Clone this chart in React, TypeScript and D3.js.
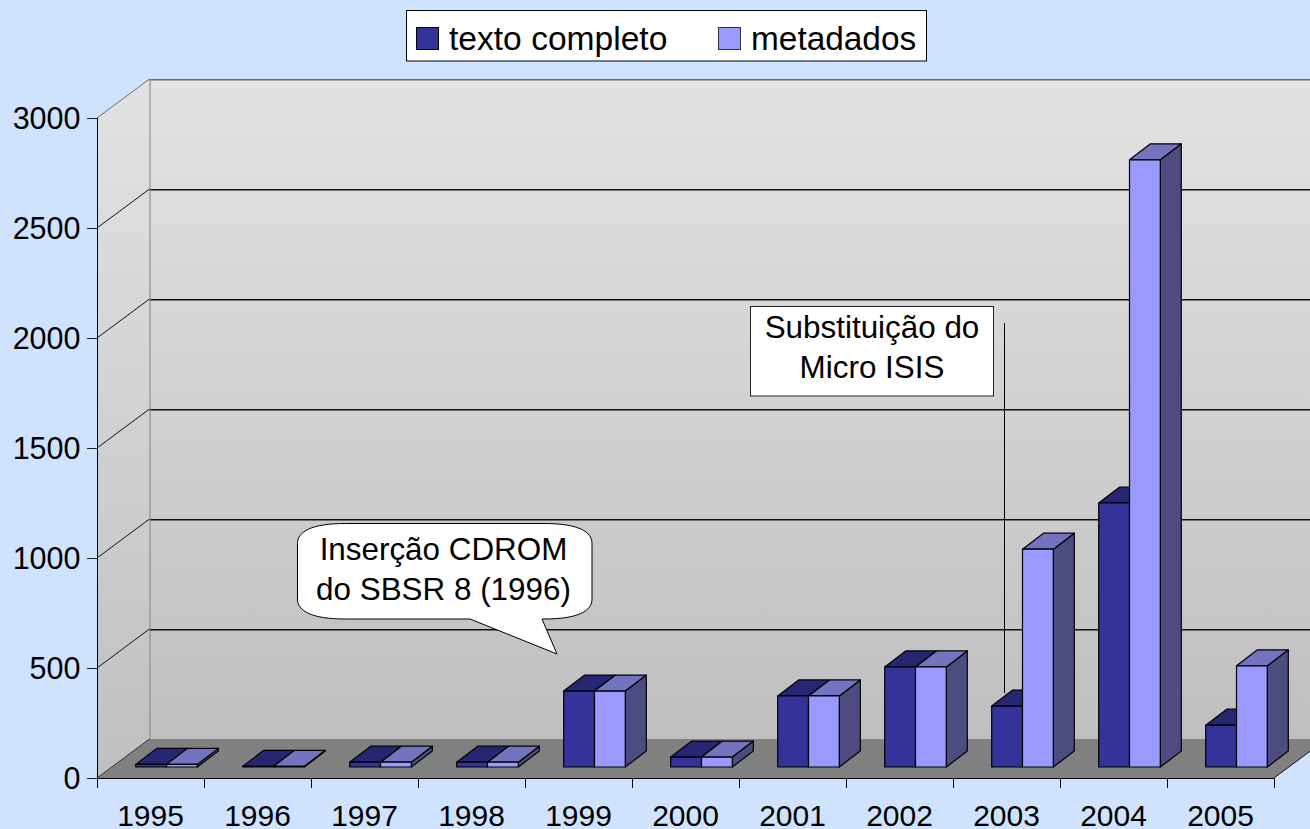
import React from "react";
import * as d3 from "d3";

const years = ["1995","1996","1997","1998","1999","2000","2001","2002","2003","2004","2005"];
const textoCompleto = [12, 3, 22, 22, 345, 45, 323, 455, 277, 1200, 190];
const metadados = [12, 3, 22, 22, 345, 45, 323, 455, 990, 2760, 460];
const yTicks = [0, 500, 1000, 1500, 2000, 2500, 3000];
const seriesNames = ["texto completo", "metadados"];

const FONT = "'Liberation Sans', Arial, sans-serif";
const BG = "#CFE3FF";
const palette = {
  tc: { front: "#333399", top: "#262673", side: "#262673" },
  md: { front: "#9999FF", top: "#7373BF", side: "#4C4C80" },
};

const W = 1310, H = 829;
const x0 = 97, x1 = 1274, y0 = 778, y3000 = 118;
const depthX = 52.5, depthY = -39;
const barDX = 21, barDY = -16, barLift = 11, barShift = 15.5;

const y = d3.scaleLinear().domain([0, 3000]).range([y0, y3000]);
const x = d3.scaleBand<string>().domain(years).range([x0, x1]);
const pts = (a: number[][]) => a.map((p) => p.join(",")).join(" ");

function Bar({ left, width, value, c, side }: any) {
  const base = y0 - barLift;
  const top = base - (y0 - y(value));
  return (
    <g stroke="#000" strokeWidth={1.2} strokeLinejoin="round">
      {side && (
        <polygon
          fill={c.side}
          points={pts([[left + width, top],[left + width + barDX, top + barDY],[left + width + barDX, base + barDY],[left + width, base]])}
        />
      )}
      <polygon
        fill={c.top}
        points={pts([[left, top],[left + width, top],[left + width + barDX, top + barDY],[left + barDX, top + barDY]])}
      />
      <rect x={left} y={top} width={width} height={base - top} fill={c.front} />
    </g>
  );
}

export default function App() {
  const bw = 30.8;
  const backY = (v: number) => y(v) + depthY;
  const calloutPath = d3.path();
  const cL = 297.5, cR = 592, cT = 523.5, cB = 619;
  calloutPath.moveTo(cL + 48, cT);
  calloutPath.lineTo(cR - 48, cT);
  calloutPath.bezierCurveTo(cR - 14, cT, cR, cT + 8, cR, cT + 20);
  calloutPath.lineTo(cR, cB - 20);
  calloutPath.bezierCurveTo(cR, cB - 8, cR - 14, cB, cR - 48, cB);
  calloutPath.lineTo(542, cB);
  calloutPath.lineTo(557, 654);
  calloutPath.lineTo(470, cB);
  calloutPath.lineTo(cL + 48, cB);
  calloutPath.bezierCurveTo(cL + 14, cB, cL, cB - 8, cL, cB - 20);
  calloutPath.lineTo(cL, cT + 20);
  calloutPath.bezierCurveTo(cL, cT + 8, cL + 14, cT, cL + 48, cT);
  calloutPath.closePath();

  return (
    <svg width={W} height={H} style={{ position: "absolute", left: 0, top: 0, display: "block" }} fontFamily={FONT}>
      <defs>
        <linearGradient id="wall" x1="0" y1="0" x2="0" y2="1">
          <stop offset="0" stopColor="#E3E3E3" />
          <stop offset="1" stopColor="#BFBFBF" />
        </linearGradient>
      </defs>
      <rect width={W} height={H} fill={BG} />

      {/* walls */}
      <polygon points={pts([[x0, y(3000)],[x0 + depthX, backY(3000)],[x0 + depthX, backY(0)],[x0, y(0)]])} fill="url(#wall)" />
      <rect x={x0 + depthX} y={backY(3000)} width={x1 - x0} height={backY(0) - backY(3000)} fill="url(#wall)" />
      <polygon points={pts([[x0, y0],[x1, y0],[x1 + depthX, y0 + depthY],[x0 + depthX, y0 + depthY]])} fill="#808080" />

      {/* gridlines */}
      {yTicks.slice(1).map((t) => {
        const stroke = t === 3000 ? "#6E6E6E" : "#111111";
        return (
          <g key={t} stroke={stroke} strokeWidth={1} fill="none">
            <line x1={x0} y1={y(t)} x2={x0 + depthX} y2={backY(t)} />
            <line x1={x0 + depthX} y1={backY(t) + 0.7} x2={x1 + depthX} y2={backY(t) + 0.7} strokeWidth={1.4} />
          </g>
        );
      })}
      <line x1={x0 + depthX + 0.5} y1={backY(3000)} x2={x0 + depthX + 0.5} y2={backY(0)} stroke="#808080" strokeWidth={1} />
      <line x1={x0} y1={y0} x2={x0 + depthX} y2={y0 + depthY} stroke="#333" strokeWidth={1} />
      <line x1={x1} y1={y0} x2={x1 + depthX} y2={y0 + depthY} stroke="#111" strokeWidth={1} />

      {/* bars */}
      {years.map((yr, i) => {
        const c = (x(yr) as number) + x.bandwidth() / 2 + barShift;
        return (
          <g key={yr}>
            <Bar left={c - bw + 0.5} width={bw} value={textoCompleto[i]} c={palette.tc} />
            <Bar left={c + 0.5} width={bw} value={metadados[i]} c={palette.md} side />
          </g>
        );
      })}

      {/* axes */}
      <line x1={x0 + 0.5} y1={y(3000)} x2={x0 + 0.5} y2={y0 + 10} stroke="#000" strokeWidth={1} />
      <line x1={x0} y1={y0 + 0.5} x2={x1} y2={y0 + 0.5} stroke="#000" strokeWidth={1} />
      {yTicks.map((t) => (
        <g key={t}>
          <line x1={x0 - 10} x2={x0} y1={y(t) + 0.5} y2={y(t) + 0.5} stroke="#222" strokeWidth={1} />
          <text x={x0 - 16.5} y={y(t) + 11} textAnchor="end" fontSize={30.5} fill="#000">{t}</text>
        </g>
      ))}
      {years.map((yr) => (
        <g key={yr}>
          <line x1={(x(yr) as number) + x.bandwidth() + 0.5} x2={(x(yr) as number) + x.bandwidth() + 0.5} y1={y0} y2={y0 + 10} stroke="#000" strokeWidth={1} />
          <text x={(x(yr) as number) + x.bandwidth() / 2} y={826} textAnchor="middle" fontSize={30} fill="#000">{yr}</text>
        </g>
      ))}

      {/* legend */}
      <rect x={406.5} y={10.5} width={520} height={50.5} fill="#fff" stroke="#000" strokeWidth={1} />
      <rect x={416.5} y={27.5} width={22} height={22} fill={palette.tc.front} stroke="#000" strokeWidth={1} />
      <rect x={718.5} y={27.5} width={22} height={22} fill={palette.md.front} stroke="#333" strokeWidth={1} />
      <text x={449} y={50} fontSize={33.6} fill="#000">{seriesNames[0]}</text>
      <text x={751} y={50} fontSize={33.4} fill="#000">{seriesNames[1]}</text>

      {/* callout */}
      <path d={calloutPath.toString()} fill="#fff" stroke="#000" strokeWidth={1} />
      <text x={443.5} y={560} textAnchor="middle" fontSize={31.4} fill="#000">Inserção CDROM</text>
      <text x={443.5} y={600} textAnchor="middle" fontSize={31.4} fill="#000">do SBSR 8 (1996)</text>

      {/* note */}
      <rect x={750.5} y={306.5} width={243} height={89.5} fill="#fff" stroke="#222" strokeWidth={1} />
      <text x={872} y={338} textAnchor="middle" fontSize={31.4} fill="#000">Substituição do</text>
      <text x={872} y={378} textAnchor="middle" fontSize={31.4} fill="#000">Micro ISIS</text>
      <line x1={1004.5} y1={323} x2={1004.5} y2={693} stroke="#000" strokeWidth={1} />
    </svg>
  );
}
